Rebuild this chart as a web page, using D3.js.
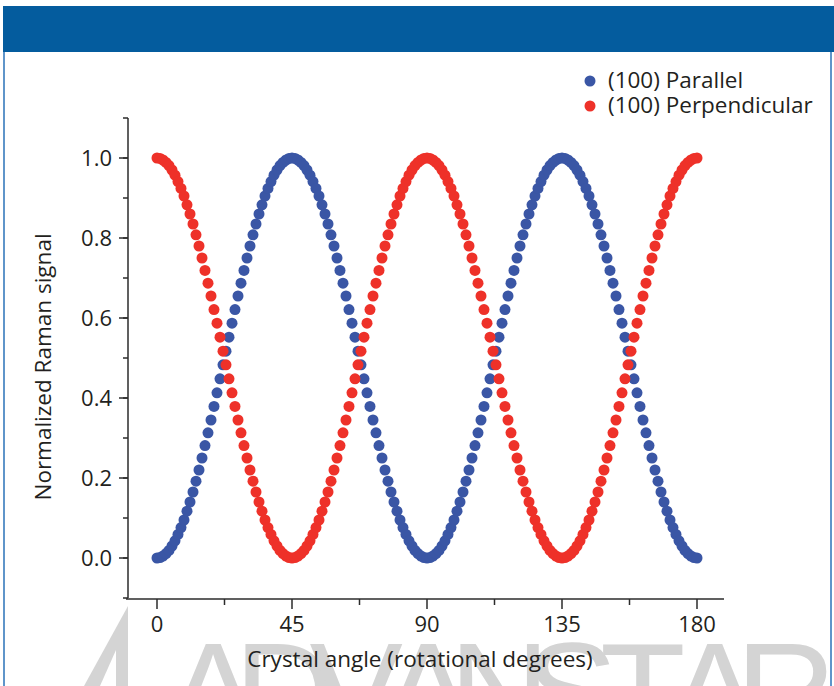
<!DOCTYPE html>
<html><head><meta charset="utf-8">
<script src="https://cdn.jsdelivr.net/npm/d3@7"></script>
<style>html,body{margin:0;padding:0;background:#fff;}svg{display:block;}</style>
</head><body>
<script>
// ---- data ----
const angles = d3.range(0, 181, 1); // crystal angle, degrees (1° steps)
const parallel = [
0,0.001,0.005,0.011,0.019,0.030,0.043,0.059,0.076,0.095,0.117,0.140,0.165,0.192,0.220,0.250,0.281,0.313,0.345,0.379,0.413,0.448,0.483,0.517,0.552,0.587,0.621,0.655,0.687,0.719,0.750,0.780,0.808,0.835,0.860,0.883,0.905,0.924,0.941,0.957,0.970,0.981,0.989,0.995,0.999,1.000,
0.999,0.995,0.989,0.981,0.970,0.957,0.941,0.924,0.905,0.883,0.860,0.835,0.808,0.780,0.750,0.719,0.687,0.655,0.621,0.587,0.552,0.517,0.483,0.448,0.413,0.379,0.345,0.313,0.281,0.250,0.220,0.192,0.165,0.140,0.117,0.095,0.076,0.059,0.043,0.030,0.019,0.011,0.005,0.001,0,
0.001,0.005,0.011,0.019,0.030,0.043,0.059,0.076,0.095,0.117,0.140,0.165,0.192,0.220,0.250,0.281,0.313,0.345,0.379,0.413,0.448,0.483,0.517,0.552,0.587,0.621,0.655,0.687,0.719,0.750,0.780,0.808,0.835,0.860,0.883,0.905,0.924,0.941,0.957,0.970,0.981,0.989,0.995,0.999,1.000,
0.999,0.995,0.989,0.981,0.970,0.957,0.941,0.924,0.905,0.883,0.860,0.835,0.808,0.780,0.750,0.719,0.687,0.655,0.621,0.587,0.552,0.517,0.483,0.448,0.413,0.379,0.345,0.313,0.281,0.250,0.220,0.192,0.165,0.140,0.117,0.095,0.076,0.059,0.043,0.030,0.019,0.011,0.005,0.001,0
];
const perpendicular = [
1.000,0.999,0.995,0.989,0.981,0.970,0.957,0.941,0.924,0.905,0.883,0.860,0.835,0.808,0.780,0.750,0.719,0.687,0.655,0.621,0.587,0.552,0.517,0.483,0.448,0.413,0.379,0.345,0.313,0.281,0.250,0.220,0.192,0.165,0.140,0.117,0.095,0.076,0.059,0.043,0.030,0.019,0.011,0.005,0.001,0,
0.001,0.005,0.011,0.019,0.030,0.043,0.059,0.076,0.095,0.117,0.140,0.165,0.192,0.220,0.250,0.281,0.313,0.345,0.379,0.413,0.448,0.483,0.517,0.552,0.587,0.621,0.655,0.687,0.719,0.750,0.780,0.808,0.835,0.860,0.883,0.905,0.924,0.941,0.957,0.970,0.981,0.989,0.995,0.999,1.000,
0.999,0.995,0.989,0.981,0.970,0.957,0.941,0.924,0.905,0.883,0.860,0.835,0.808,0.780,0.750,0.719,0.687,0.655,0.621,0.587,0.552,0.517,0.483,0.448,0.413,0.379,0.345,0.313,0.281,0.250,0.220,0.192,0.165,0.140,0.117,0.095,0.076,0.059,0.043,0.030,0.019,0.011,0.005,0.001,0,
0.001,0.005,0.011,0.019,0.030,0.043,0.059,0.076,0.095,0.117,0.140,0.165,0.192,0.220,0.250,0.281,0.313,0.345,0.379,0.413,0.448,0.483,0.517,0.552,0.587,0.621,0.655,0.687,0.719,0.750,0.780,0.808,0.835,0.860,0.883,0.905,0.924,0.941,0.957,0.970,0.981,0.989,0.995,0.999,1.000
];
const seriesNames = ["(100) Parallel", "(100) Perpendicular"];
const seriesColors = ["#3a56a5", "#ee3129"];
const xTickValues = [0, 45, 90, 135, 180];
const yTickValues = [0, 0.2, 0.4, 0.6, 0.8, 1.0];
const xLabel = "Crystal angle (rotational degrees)";
const yLabel = "Normalized Raman signal";
const watermark = ["A","D","V","A","N","S","T","A","R"];

// ---- drawing ----
const W = 834, H = 686;
const font = "'Open Sans', 'Noto Sans', sans-serif";
const svg = d3.select("body").append("svg").attr("width", W).attr("height", H);

// header and frame
svg.append("rect").attr("x", 3).attr("y", 6).attr("width", W - 3).attr("height", 46).attr("fill", "#045c9e");
svg.append("line").attr("x1", 4).attr("x2", 4).attr("y1", 52).attr("y2", H).attr("stroke", "#2a72b8").attr("stroke-width", 1.5);
svg.append("line").attr("x1", 831).attr("x2", 831).attr("y1", 52).attr("y2", H).attr("stroke", "#2a72b8").attr("stroke-width", 1.5);

// watermark
const wm = svg.append("g").attr("fill", "#d4d4d4");
wm.append("path").attr("d", "M128,606 L128,686 L84,686 Z");
wm.append("path").attr("d", "M116,650 L116,686 L100,686 Z").attr("fill", "#fff");
const wmX = d3.scalePoint().domain(d3.range(watermark.length)).range([213, 786]);
wm.selectAll("text").data(watermark).join("text")
  .attr("x", (d, i) => wmX(i)).attr("y", 740)
  .attr("text-anchor", "middle")
  .attr("font-family", "'Liberation Sans', Arial, sans-serif")
  .attr("font-size", 140)
  .text(d => d);

const x = d3.scaleLinear().domain([-10, 189]).range([127, 724]);
const y = d3.scaleLinear().domain([-0.1, 1.1]).range([598, 118]);

// y axis
const yAxis = svg.append("g").attr("transform", "translate(128,0)");
yAxis.append("line").attr("y1", y(1.1)).attr("y2", y(-0.1)).attr("stroke", "#2b2b2b").attr("stroke-width", 1.5);
yAxis.selectAll(".minor").data(d3.range(-1, 12).map(v => v / 10)).join("line")
  .attr("x1", -5).attr("x2", 0).attr("y1", d => y(d)).attr("y2", d => y(d))
  .attr("stroke", "#2b2b2b").attr("stroke-width", 1.5);
yAxis.selectAll(".major").data(yTickValues).join("line")
  .attr("x1", -9).attr("x2", 0).attr("y1", d => y(d)).attr("y2", d => y(d))
  .attr("stroke", "#2b2b2b").attr("stroke-width", 1.5);
yAxis.selectAll("text").data(yTickValues).join("text")
  .attr("x", -16).attr("y", d => y(d)).attr("dy", "0.35em")
  .attr("text-anchor", "end").attr("font-family", font).attr("font-size", 22).attr("fill", "#231f20")
  .text(d => d.toFixed(1));

// x axis
const xAxis = svg.append("g").attr("transform", "translate(0,599)");
xAxis.append("line").attr("x1", 126).attr("x2", 724).attr("stroke", "#2b2b2b").attr("stroke-width", 1.5);
xAxis.selectAll(".minor").data([22.5, 67.5, 112.5, 157.5]).join("line")
  .attr("x1", d => x(d)).attr("x2", d => x(d)).attr("y1", 0).attr("y2", 6)
  .attr("stroke", "#2b2b2b").attr("stroke-width", 1.5);
xAxis.selectAll(".major").data(xTickValues).join("line")
  .attr("x1", d => x(d)).attr("x2", d => x(d)).attr("y1", 0).attr("y2", 10)
  .attr("stroke", "#2b2b2b").attr("stroke-width", 1.5);
xAxis.selectAll("text").data(xTickValues).join("text")
  .attr("x", d => x(d)).attr("y", 33)
  .attr("text-anchor", "middle").attr("font-family", font).attr("font-size", 22).attr("fill", "#231f20")
  .text(d => d);

// axis titles
svg.append("text").attr("x", 420).attr("y", 667).attr("text-anchor", "middle")
  .attr("font-family", font).attr("font-size", 22.5).attr("fill", "#231f20").text(xLabel);
svg.append("text").attr("transform", "translate(51,367) rotate(-90)").attr("text-anchor", "middle")
  .attr("font-family", font).attr("font-size", 22.5).attr("fill", "#231f20").text(yLabel);

// points
[parallel, perpendicular].forEach((vals, si) => {
  svg.append("g").selectAll("circle").data(angles).join("circle")
    .attr("cx", (d) => x(d)).attr("cy", (d, i) => y(vals[i])).attr("r", 5.5)
    .attr("fill", seriesColors[si]);
});

// legend
const lg = svg.append("g");
seriesNames.forEach((n, i) => {
  lg.append("circle").attr("cx", 590).attr("cy", 81 + i * 25).attr("r", 5.5).attr("fill", seriesColors[i]);
  lg.append("text").attr("x", 608).attr("y", 80 + i * 25).attr("dy", "0.35em")
    .attr("font-family", font).attr("font-size", 22.5).attr("fill", "#231f20").text(n);
});
</script>
</body></html>
